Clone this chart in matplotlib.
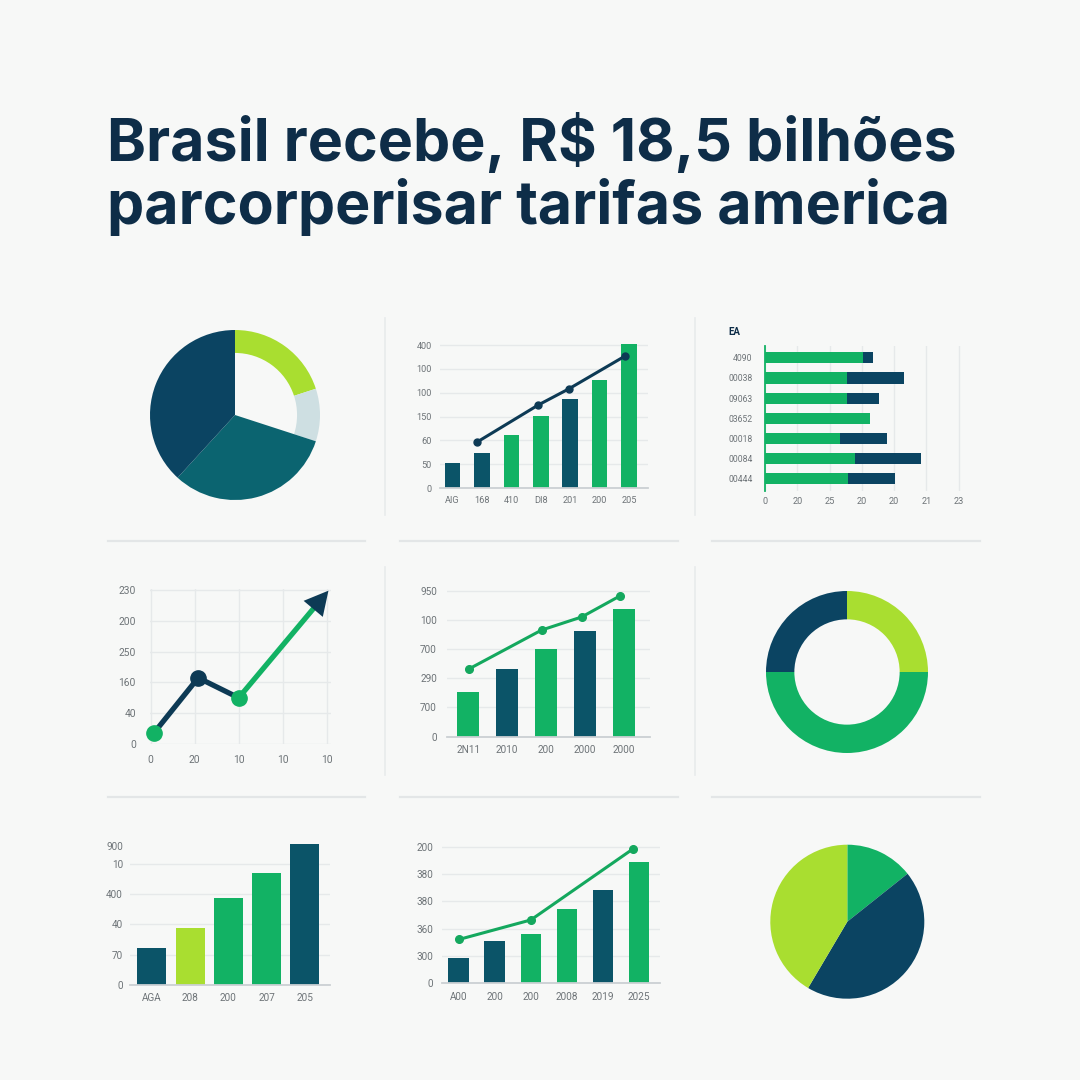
import matplotlib
matplotlib.use('Agg')
import matplotlib.pyplot as plt
from matplotlib.lines import Line2D

W, H = 1080, 1080
BG = '#F7F8F7'
NAVY = '#0B4462'
TEAL = '#0B5468'
TEAL2 = '#0B6470'
GREEN = '#12B264'
LINEG = '#14A85E'
LIME = '#A9DE30'
PALE = '#CEDFE2'
TITLEC = '#0E2D48'
TICKC = '#6E7478'
GRIDC = '#E6E9EA'
SPINEC = '#CBD0D3'

plt.rcParams['font.family'] = ['Roboto', 'DejaVu Sans']

# ---------------- data ----------------
title_lines = ["Brasil recebe, R$ 18,5 bilhões", "parcorperisar tarifas america"]

# panel 1 pie (clockwise from top): lime ring, pale ring, teal, navy
p1_values = [20.0, 10.0, 31.8, 38.2]

# panel 2 bars + line
p2_labels = ["AIG", "168", "410", "DI8", "201", "200", "205"]
p2_yticklabels = ["0", "50", "60", "150", "100", "100", "400"]
p2_bars = [1.06, 1.46, 2.21, 3.02, 3.75, 4.54, 6.05]
p2_line_x = [0.82, 2.92, 3.95, 5.88]
p2_line_y = [1.92, 3.49, 4.16, 5.55]

# panel 3 stacked horizontal bars
p3_title = "EA"
p3_labels = ["4090", "00038", "09063", "03652", "00018", "00084", "00444"]
p3_xticklabels = ["0", "20", "25", "20", "20", "21", "23"]
p3_green = [3.04, 2.53, 2.53, 3.42, 2.32, 2.79, 2.58]
p3_total = [3.51, 4.47, 3.69, 3.42, 3.94, 5.01, 4.19]

# panel 4 line with arrow
p4_xticklabels = ["0", "20", "10", "10", "10"]
p4_yticklabels = ["0", "40", "160", "250", "200", "230"]
p4_x = [0.08, 1.08, 2.0, 4.04]
p4_y = [0.37, 2.15, 1.5, 4.98]

# panel 5 bars + line
p5_labels = ["2N11", "2010", "200", "2000", "2000"]
p5_yticklabels = ["0", "700", "290", "700", "100", "950"]
p5_bars = [1.53, 2.33, 3.0, 3.61, 4.36]
p5_line_x = [0.02, 1.88, 2.91, 3.89]
p5_line_y = [2.32, 3.65, 4.1, 4.82]

# panel 6 donut (clockwise from top)
p6_values = [25, 50, 25]

# panel 7 bars
p7_labels = ["AGA", "208", "200", "207", "205"]
p7_yticklabels = ["0", "70", "40", "400", "10", "900"]
p7_bars = [1.23, 1.88, 2.86, 3.69, 4.64]

# panel 8 bars + line
p8_labels = ["A00", "200", "200", "2008", "2019", "2025"]
p8_yticklabels = ["0", "300", "360", "380", "380", "200"]
p8_bars = [0.92, 1.55, 1.81, 2.71, 3.41, 4.43]
p8_line_x = [0.02, 2.0, 4.83]
p8_line_y = [1.61, 2.32, 4.92]

# panel 9 pie (clockwise from top)
p9_values = [14.3, 44.2, 41.5]

# ---------------- figure ----------------
fig = plt.figure(figsize=(W / 100, H / 100), dpi=100, facecolor=BG)


def px_axes(l, t, r, b):
    ax = fig.add_axes([l / W, 1 - b / H, (r - l) / W, (b - t) / H])
    ax.set_facecolor('none')
    return ax


def fline(x0, y0, x1, y1, color='#E3E6E7', lw=1.6):
    fig.add_artist(Line2D([x0 / W, x1 / W], [1 - y0 / H, 1 - y1 / H],
                          color=color, lw=lw, transform=fig.transFigure))


# title
fig.text(107 / W, 1 - 161 / H, title_lines[0], fontsize=42.5, fontweight='bold',
         color=TITLEC, family=['Inter', 'DejaVu Sans'], va='baseline', ha='left')
fig.text(107 / W, 1 - 224 / H, title_lines[1], fontsize=42.5, fontweight='bold',
         color=TITLEC, family=['Inter', 'DejaVu Sans'], va='baseline', ha='left')

# separators
for y in (541, 797):
    fline(108, y, 365, y)
    fline(400, y, 678, y)
    fline(712, y, 980, y)
for x in (385, 695):
    fline(x, 318, x, 515, color='#E8EBEC', lw=1.2)
    fline(x, 567, x, 775, color='#E8EBEC', lw=1.2)


def style_bar_axes(ax, ylabels, xlabels, yticks=None):
    for s in ('top', 'right', 'left'):
        ax.spines[s].set_visible(False)
    ax.spines['bottom'].set_color(SPINEC)
    ax.spines['bottom'].set_linewidth(1.3)
    if yticks is None:
        yticks = list(range(len(ylabels)))
    ax.set_yticks(yticks)
    ax.set_yticklabels(ylabels)
    ax.set_xticks(range(len(xlabels)))
    ax.set_xticklabels(xlabels)
    ax.tick_params(length=0, labelsize=7.2, labelcolor=TICKC, pad=6)
    ax.yaxis.grid(True, color=GRIDC, lw=1)
    ax.set_axisbelow(True)


# ---- panel 1: pie with ring wedges ----
ax = px_axes(150, 330, 320, 500)
wedges, _ = ax.pie(p1_values, colors=[LIME, PALE, TEAL2, NAVY], startangle=90,
                   counterclock=False, radius=1)
wedges[0].set_width(0.27)
wedges[1].set_width(0.27)
ax.set_xlim(-1, 1)
ax.set_ylim(-1, 1)
ax.set_aspect('equal')

# ---- panel 2: bars + line ----
ax = px_axes(440, 338, 648, 488)
p2_colors = [TEAL, TEAL, GREEN, GREEN, TEAL, GREEN, GREEN]
ax.bar(range(len(p2_bars)), p2_bars, width=0.53, color=p2_colors, zorder=2)
ax.plot(p2_line_x, p2_line_y, color='#0D3A55', lw=2.2, marker='o', ms=5, zorder=3)
ax.set_xlim(-0.43, 6.65)
ax.set_ylim(0, 6.3)
style_bar_axes(ax, p2_yticklabels, p2_labels)
ax.tick_params(labelsize=6.6)

# ---- panel 3: stacked horizontal bars with rounded ends ----
ax = px_axes(765, 345.7, 965, 491)
xr = (0, 6.2)
ax.set_xlim(*xr)
ax.set_ylim(6.6, -0.6)
px_per_unit = 200 / (xr[1] - xr[0])
bar_px = 11
cap = bar_px / 2 / px_per_unit
hgt = 0.55
for i, (g, t) in enumerate(zip(p3_green, p3_total)):
    ax.barh(i, min(g, t - cap), height=hgt, color=GREEN, zorder=3, lw=0)
    endc = NAVY if t > g + 1e-6 else GREEN
    if t > g + 1e-6:
        ax.barh(i, t - cap - g, left=g, height=hgt, color=NAVY, zorder=2, lw=0)
    ax.plot([t - cap - 0.001, t - cap], [i, i], color=endc, lw=bar_px * 0.72,
            solid_capstyle='round', zorder=2)
ax.set_yticks(range(len(p3_labels)))
ax.set_yticklabels(p3_labels)
ax.set_xticks(range(len(p3_xticklabels)))
ax.set_xticklabels(p3_xticklabels)
ax.tick_params(length=0, labelsize=6.6, labelcolor=TICKC, pad=4)
ax.tick_params(axis='y', labelsize=6.2, pad=9)
for s in ('top', 'right', 'bottom'):
    ax.spines[s].set_visible(False)
ax.spines['left'].set_color(GREEN)
ax.spines['left'].set_linewidth(1.3)
ax.xaxis.grid(True, color=GRIDC, lw=1)
ax.set_axisbelow(True)
fig.text(734 / W, 1 - 332 / H, p3_title, fontsize=7, fontweight='bold',
         color=TITLEC, va='center', ha='center')

# ---- panel 4: line with arrow ----
ax = px_axes(149.8, 588.5, 331.1, 744)
ax.set_xlim(-0.02, 4.1)
ax.set_ylim(0, 5.05)
ax.set_xticks(range(len(p4_xticklabels)))
ax.set_xticklabels(p4_xticklabels)
ax.set_yticks(range(len(p4_yticklabels)))
ax.set_yticklabels(p4_yticklabels)
ax.tick_params(length=0, labelsize=7.4, labelcolor=TICKC, pad=8)
ax.tick_params(axis='y', pad=10)
for s in ax.spines.values():
    s.set_visible(False)
ax.grid(True, color=GRIDC, lw=1)
ax.set_axisbelow(True)
ax.plot(p4_x[:3], p4_y[:3], color='#0D3A55', lw=3.8, solid_capstyle='round', zorder=2)
gx = p4_x[2] + (p4_x[3] - p4_x[2]) * 0.9
gy = p4_y[2] + (p4_y[3] - p4_y[2]) * 0.9
ax.plot([p4_x[2], gx], [p4_y[2], gy], color=GREEN, lw=3.8, zorder=2)
bx = p4_x[3] - (p4_x[3] - p4_x[2]) * 0.05
by = p4_y[3] - (p4_y[3] - p4_y[2]) * 0.05
ax.annotate('', xy=(p4_x[3], p4_y[3]), xytext=(bx, by),
            arrowprops=dict(arrowstyle='-|>,head_length=0.95,head_width=0.5',
                            color='#0D3A55', lw=0, mutation_scale=18,
                            shrinkA=0, shrinkB=0), annotation_clip=False, zorder=4)
pt_colors = [GREEN, '#0D3A55', GREEN]
for x, y, c in zip(p4_x[:3], p4_y[:3], pt_colors):
    ax.plot([x], [y], 'o', color=c, ms=11, zorder=3, clip_on=False)

# ---- panel 5: bars + line ----
ax = px_axes(446.7, 586.3, 650, 736.7)
p5_colors = [GREEN, TEAL, GREEN, TEAL, GREEN]
ax.bar(range(len(p5_bars)), p5_bars, width=0.56, color=p5_colors, zorder=2)
ax.plot(p5_line_x, p5_line_y, color=LINEG, lw=2.2, marker='o', ms=5.5, zorder=3)
ax.set_xlim(-0.55, 4.66)
ax.set_ylim(0, 5.15)
style_bar_axes(ax, p5_yticklabels, p5_labels)
ax.tick_params(axis='y', pad=7)

# ---- panel 6: donut ----
ax = px_axes(766, 591, 928, 753)
ax.pie(p6_values, colors=[LIME, GREEN, NAVY], startangle=90, counterclock=False,
       radius=1, wedgeprops=dict(width=0.35))
ax.set_xlim(-1, 1)
ax.set_ylim(-1, 1)
ax.set_aspect('equal')

# ---- panel 7: bars ----
ax = px_axes(130, 841, 330, 985)
p7_colors = [TEAL, LIME, GREEN, GREEN, TEAL]
ax.bar(range(len(p7_bars)), p7_bars, width=0.76, color=p7_colors, zorder=2)
ax.set_xlim(-0.57, 4.66)
ax.set_ylim(0, 4.75)
style_bar_axes(ax, p7_yticklabels, p7_labels, yticks=[0, 1, 2, 3, 4, 4.6])
ax.get_ygridlines()[-1].set_visible(False)
ax.tick_params(axis='y', pad=5)

# ---- panel 8: bars + line ----
ax = px_axes(441.7, 841.3, 660, 983.3)
p8_colors = [TEAL, TEAL, GREEN, GREEN, TEAL, GREEN]
ax.bar(range(len(p8_bars)), p8_bars, width=0.57, color=p8_colors, zorder=2)
ax.plot(p8_line_x, p8_line_y, color=LINEG, lw=2.2, marker='o', ms=5.5, zorder=3)
ax.set_xlim(-0.47, 5.58)
ax.set_ylim(0, 5.2)
style_bar_axes(ax, p8_yticklabels, p8_labels)
ax.tick_params(axis='y', pad=6)

# ---- panel 9: pie ----
ax = px_axes(770.3, 844.7, 924.3, 998.7)
ax.pie(p9_values, colors=[GREEN, NAVY, LIME], startangle=90, counterclock=False,
       radius=1)
ax.set_xlim(-1, 1)
ax.set_ylim(-1, 1)
ax.set_aspect('equal')

fig.savefig('out.png', dpi=100, facecolor=BG)
